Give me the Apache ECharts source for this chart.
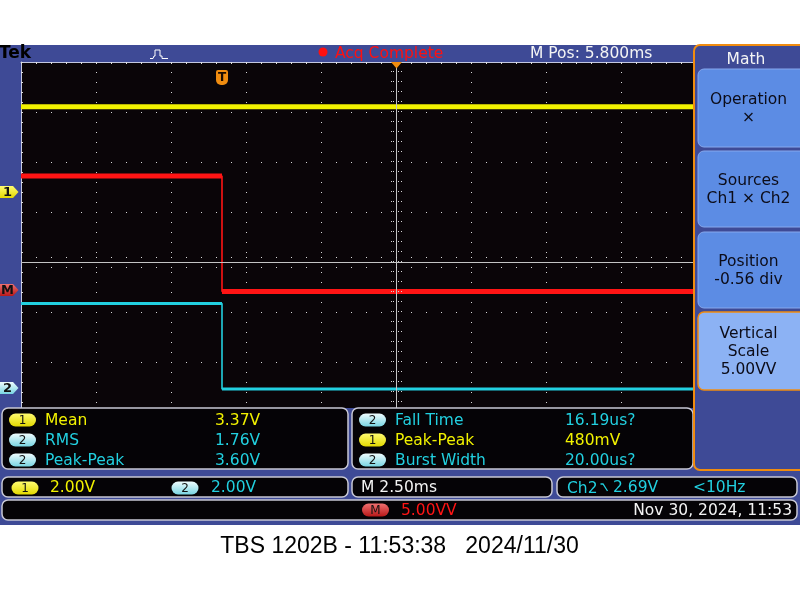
<!DOCTYPE html>
<html><head><meta charset="utf-8">
<script src="https://cdn.jsdelivr.net/npm/echarts@6/dist/echarts.min.js"></script>
<style>html,body{margin:0;padding:0;background:#fff;}#c{width:800px;height:600px;}</style>
</head><body><div id="c"></div>
<script>
// ---- data (time in ms relative to trigger, values in volts / V^2) ----
const ch1Time = [-6.7, 15.7];
const ch1Volts = [3.37, 3.37];
const ch2Time = [-6.7, 0, 0, 15.7];
const ch2Volts = [3.38, 3.38, -0.04, -0.04];
const mathTime = [-6.7, 0, 0, 15.7];
const mathValues = [11.4, 11.4, -0.15, -0.15];

const measLeftCh = ['1', '2', '2'];
const measLeftNames = ['Mean', 'RMS', 'Peak-Peak'];
const measLeftValues = ['3.37V', '1.76V', '3.60V'];
const measRightCh = ['2', '1', '2'];
const measRightNames = ['Fall Time', 'Peak-Peak', 'Burst Width'];
const measRightValues = ['16.19us?', '480mV', '20.00us?'];

const menuTitle = 'Math';
const menuButtons = [['Operation', '×'], ['Sources', 'Ch1 × Ch2'], ['Position', '-0.56 div'], ['Vertical', 'Scale', '5.00VV']];

const headerTexts = {brand: 'Tek', acq: 'Acq Complete', mpos: 'M Pos: 5.800ms'};
const chScales = ['2.00V', '2.00V'];
const timeScale = 'M 2.50ms';
const trigInfo = ['Ch2', '2.69V', '<10Hz'];
const mathScale = '5.00VV';
const dateText = 'Nov 30, 2024, 11:53';
const caption = 'TBS 1202B - 11:53:38   2024/11/30';

// ---- styles ----
const BLUE = '#3e4a96';
const PLOT = '#0a0508';
const YEL = '#f2f200', CYAN = '#22d0e0', RED = '#ff1414', ORANGE = '#f08c10';
const FONT = '"DejaVu Sans", sans-serif';
const LG = echarts.graphic.LinearGradient;
const yelGrad = () => new LG(0,0,0,1,[{offset:0,color:'#fffb70'},{offset:1,color:'#e2d800'}]);
const cyanGrad = () => new LG(0,0,0,1,[{offset:0,color:'#f0fdff'},{offset:1,color:'#78d4e2'}]);
const redGrad = () => new LG(0,0,0,1,[{offset:0,color:'#f07070'},{offset:1,color:'#b81818'}]);

function pts(t, v) { return t.map((x, i) => [x, v[i]]); }
function bands(t, v) {
  const out = [];
  for (let i = 0; i < t.length; i++) {
    out.push([t[i], v[i]]);
    if (i < t.length - 1 && t[i + 1] === t[i]) out.push([t[i], '-']);
  }
  return out;
}
function txt(x, y, s, fill, size, align, weight, family, z) {
  const f = (weight || 'normal') + ' ' + size + 'px ' + (family || FONT);
  return {type: 'text', z: z || 100, x: x, y: y, silent: true,
    style: {text: s, fill: fill, font: f, textAlign: align || 'left', textVerticalAlign: 'middle', align: align || 'left', verticalAlign: 'middle'}};
}
function rect(x, y, w, h, r, fill, stroke, lw, z) {
  return {type: 'rect', z: z || 100, silent: true, shape: {x: x, y: y, width: w, height: h, r: r || 0},
    style: {fill: fill, stroke: stroke || null, lineWidth: lw || 0}};
}
function badge(x, y, label, kind) {
  const g = kind === '1' ? yelGrad() : (kind === 'M' ? redGrad() : cyanGrad());
  return [rect(x, y - 6.5, 27, 13, 6.5, g, null, 0, 101), txt(x + 13.5, y + 0.5, label, '#111', 12, 'center', 'normal', FONT, 102)];
}
function chColor(c) { return c === '1' ? YEL : CYAN; }

const G = [];
// frame
G.push(rect(0, 45, 800, 480, 0, BLUE, null, 0, -10));
G.push(rect(21, 62, 672, 346, 0, PLOT, null, 0, -9));
G.push(rect(0, 408, 800, 6, 0, BLUE, null, 0, 99));
// header
G.push(txt(-1, 54, headerTexts.brand, '#000', 17, 'left', 'bold'));
G.push({type: 'polyline', z: 100, silent: true, shape: {points: [[150,58.5],[153,58.5],[154,56],[155,56],[155,50],[160,50],[160,56],[162,56],[162,58.5],[168,58.5]]}, style: {stroke: '#fff', fill: null, lineWidth: 1}});
G.push({type: 'circle', z: 100, silent: true, shape: {cx: 323, cy: 52, r: 4.5}, style: {fill: '#ff1010'}});
G.push(txt(335, 54, headerTexts.acq, '#ff1010', 15.5));
G.push(txt(530, 54, headerTexts.mpos, '#f4f4f4', 15.5));
// trigger markers
G.push({type: 'polygon', z: 100, silent: true, shape: {points: [[391,62],[402,62],[396.5,68.5]]}, style: {fill: ORANGE}});
G.push(rect(216, 70, 12, 15, [2,2,5,5], ORANGE, null, 0, 100));
G.push(txt(222, 77.5, 'T', '#1a0a00', 12, 'center', 'bold', FONT, 101));
// left channel markers
[['1', 192, yelGrad()], ['M', 290, redGrad()], ['2', 388, cyanGrad()]].forEach(m => {
  const y = m[1];
  G.push({type: 'polygon', z: 100, silent: true, shape: {points: [[0,y-6],[13,y-6],[18.5,y],[13,y+6],[0,y+6]]}, style: {fill: m[2]}});
  G.push(txt(7.5, y + 0.5, m[0], '#111', 13, 'center', 'bold', FONT, 101));
});
// measurement panels
const PS = '#c8c8d4';
G.push(rect(2, 408, 346, 61, 6, '#050306', PS, 1.5));
G.push(rect(352, 408, 341, 61, 6, '#050306', PS, 1.5));
G.push(rect(2, 477, 346, 20, 6, '#050306', PS, 1.5));
G.push(rect(352, 477, 200, 20, 6, '#050306', PS, 1.5));
G.push(rect(557, 477, 240, 20, 6, '#050306', PS, 1.5));
G.push(rect(2, 500, 795, 20, 6, '#050306', PS, 1.5));
measLeftNames.forEach((n, i) => {
  const y = 420 + i * 20;
  G.push(...badge(9, y, measLeftCh[i], measLeftCh[i]));
  G.push(txt(45, y + 1, n, chColor(measLeftCh[i]), 15.5));
  G.push(txt(215, y + 1, measLeftValues[i], chColor(measLeftCh[i]), 15.5));
});
measRightNames.forEach((n, i) => {
  const y = 420 + i * 20;
  G.push(...badge(359, y, measRightCh[i], measRightCh[i]));
  G.push(txt(395, y + 1, n, chColor(measRightCh[i]), 15.5));
  G.push(txt(565, y + 1, measRightValues[i], chColor(measRightCh[i]), 15.5));
});
// row 2
G.push(...badge(11.5, 488, '1', '1'));
G.push(txt(50, 488, chScales[0], YEL, 15.5));
G.push(...badge(171.5, 488, '2', '2'));
G.push(txt(211, 488, chScales[1], CYAN, 15.5));
G.push(txt(361, 488, timeScale, '#f4f4f4', 15.5));
G.push(txt(567, 489, trigInfo[0], CYAN, 15.5));
G.push({type: 'polyline', z: 101, silent: true, shape: {points: [[600.5,484],[603,484],[607.5,491]]}, style: {stroke: CYAN, fill: null, lineWidth: 1.3}});
G.push(txt(613, 488, trigInfo[1], CYAN, 15.5));
G.push(txt(693, 488, trigInfo[2], CYAN, 15.5));
// row 3
G.push(...badge(362, 510, 'M', 'M'));
G.push(txt(401, 510.5, mathScale, RED, 15.5));
G.push(txt(792, 510.5, dateText, '#f4f4f4', 15.5, 'right'));
// math menu
G.push(rect(694, 45, 112, 425, 6, BLUE, ORANGE, 2, 100));
G.push(txt(746, 60, menuTitle, '#f4f4f4', 15.5, 'center'));
const btnY = [69, 151, 232, 312];
const btnH = [78, 76, 76, 78];
menuButtons.forEach((lines, i) => {
  const sel = i === menuButtons.length - 1;
  G.push(rect(698, btnY[i], 110, btnH[i], 6, sel ? '#8cb2f4' : '#5c8ce4', sel ? ORANGE : '#86a8ee', sel ? 1.5 : 1, 101));
  const cy = btnY[i] + btnH[i] / 2 + 1;
  lines.forEach((l, j) => {
    G.push(txt(748.5, cy + (j - (lines.length - 1) / 2) * 18, l, '#0c0c18', 15.5, 'center', 'normal', FONT, 102));
  });
});
// caption
G.push(txt(399.5, 547, caption, '#000', 23, 'center', 'normal', '"Liberation Sans", Arial, sans-serif'));

const grat = '#d8d8d8';
const option = {
  backgroundColor: '#ffffff',
  animation: false,
  grid: {left: 21, top: 62, width: 672, height: 350, show: false},
  xAxis: [{
    type: 'value', min: -6.7, max: 15.7, interval: 2.5, position: 'top',
    axisLine: {show: true, onZero: false, lineStyle: {color: '#c4c8e0', width: 1}},
    axisTick: {show: true, inside: true, length: 2, lineStyle: {color: '#e0e0e0'}},
    minorTick: {show: true, splitNumber: 5, length: 2, lineStyle: {color: '#e0e0e0'}},
    axisLabel: {show: false},
    splitLine: {show: true, lineStyle: {color: grat, width: 1, type: [1, 9]}}
  }],
  yAxis: [{
    type: 'value', min: -3, max: 4, interval: 1, position: 'left',
    axisLine: {show: true, onZero: false, lineStyle: {color: '#c4c8e0', width: 1}},
    axisTick: {show: true, inside: true, length: 2, lineStyle: {color: '#e0e0e0'}},
    minorTick: {show: true, splitNumber: 5, length: 2, lineStyle: {color: '#e0e0e0'}},
    axisLabel: {show: false},
    splitLine: {show: true, lineStyle: {color: grat, width: 1, type: [1, 14]}}
  },
  {type: 'value', min: -8.84, max: 5.16, show: false, splitLine: {show: false}},
  {type: 'value', min: -0.96, max: 13.04, show: false, splitLine: {show: false}},
  {type: 'value', min: -12.2, max: 22.8, show: false, splitLine: {show: false}}],
  graphic: {elements: G},
  series: [
    {type: 'line', name: 'graticule', xAxisIndex: 0, yAxisIndex: 0, data: [], silent: true,
      markLine: {silent: true, symbol: 'none', label: {show: false}, animation: false,
        data: [
          {yAxis: 0, lineStyle: {color: '#c4c4c4', width: 1, type: 'solid'}},
          {xAxis: 5.8, lineStyle: {color: '#c4c4c4', width: 1, type: 'solid'}},
          {yAxis: 0.1, lineStyle: {color: grat, width: 1, type: [1, 14]}},
          {yAxis: -0.1, lineStyle: {color: grat, width: 1, type: [1, 14]}},
          {xAxis: 5.8 - 0.1667, lineStyle: {color: grat, width: 1, type: [1, 9]}},
          {xAxis: 5.8 - 0.0833, lineStyle: {color: grat, width: 1, type: [1, 9]}},
          {xAxis: 5.8 + 0.0833, lineStyle: {color: grat, width: 1, type: [1, 9]}},
          {xAxis: 5.8 + 0.1667, lineStyle: {color: grat, width: 1, type: [1, 9]}}
        ]}},
    {type: 'line', name: 'Ch1', xAxisIndex: 0, yAxisIndex: 1, data: pts(ch1Time, ch1Volts), symbol: 'none',
      lineStyle: {color: YEL, width: 5}, z: 3},
    {type: 'line', name: 'Math', xAxisIndex: 0, yAxisIndex: 3, data: pts(mathTime, mathValues), symbol: 'none',
      lineStyle: {color: RED, width: 1.6}, z: 3},
    {type: 'line', name: 'Math band', xAxisIndex: 0, yAxisIndex: 3, data: bands(mathTime, mathValues), symbol: 'none',
      connectNulls: false, lineStyle: {color: RED, width: 5}, z: 3},
    {type: 'line', name: 'Ch2', xAxisIndex: 0, yAxisIndex: 2, data: pts(ch2Time, ch2Volts), symbol: 'none',
      lineStyle: {color: CYAN, width: 1.6}, z: 3},
    {type: 'line', name: 'Ch2 band', xAxisIndex: 0, yAxisIndex: 2, data: bands(ch2Time, ch2Volts), symbol: 'none',
      connectNulls: false, lineStyle: {color: CYAN, width: 3}, z: 3}
  ]
};
const chart = echarts.init(document.getElementById('c'), null, {renderer: 'canvas'});
chart.setOption(option);
</script>
</body></html>
